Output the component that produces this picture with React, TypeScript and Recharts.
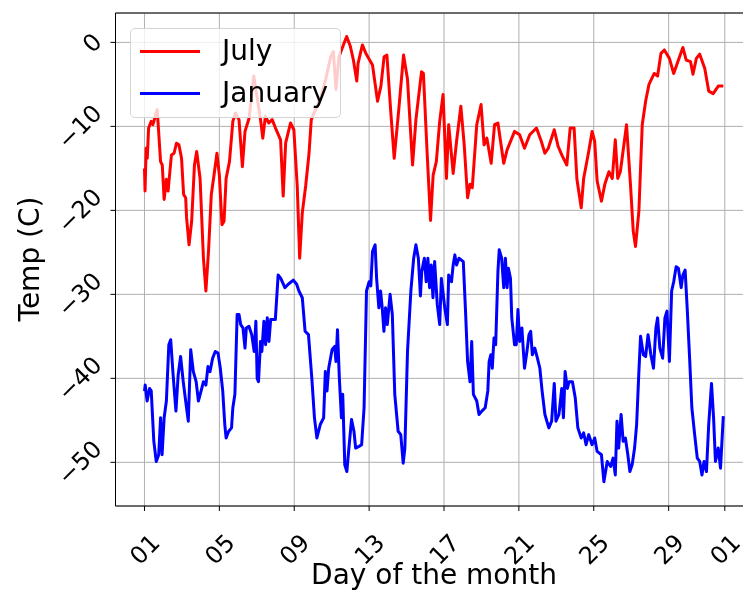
import React from 'react';
import { LineChart, Line, XAxis, YAxis, CartesianGrid, Legend, ReferenceLine, Label } from 'recharts';

// days since the 1st of the month, 00:00
const julyDay = [
  0.0, 0.03, 0.09, 0.15, 0.22, 0.36, 0.45, 0.68, 0.86, 0.95, 1.05, 1.17, 1.26, 1.44, 1.58, 1.71, 1.84, 1.98,
  2.09, 2.2, 2.25, 2.38, 2.52, 2.67, 2.79, 2.97, 3.15, 3.28, 3.42, 3.57, 3.69, 3.87, 4.0, 4.14, 4.25, 4.36,
  4.54, 4.72, 4.86, 5.05, 5.23, 5.37, 5.59, 5.84, 6.2, 6.32, 6.46, 6.64, 6.82, 7.0, 7.27, 7.41, 7.54, 7.8,
  7.98, 8.16, 8.29, 8.43, 8.61, 8.79, 8.91, 9.14, 9.41, 9.68, 9.95, 10.09, 10.23, 10.39, 10.66, 10.8, 11.0,
  11.16, 11.34, 11.41, 11.64, 11.82, 12.18, 12.45, 12.63, 12.8, 12.95, 13.16, 13.34, 13.6, 13.84, 14.05,
  14.32, 14.5, 14.8, 14.9, 15.1, 15.28, 15.42, 15.59, 15.77, 15.95, 16.13, 16.25, 16.49, 16.67, 16.9, 17.08,
  17.26, 17.39, 17.51, 17.75, 17.98, 18.14, 18.29, 18.52, 18.7, 18.88, 19.19, 19.37, 19.77, 20.04, 20.3,
  20.58, 20.94, 21.2, 21.39, 21.57, 21.89, 22.1, 22.29, 22.56, 22.74, 22.95, 23.1, 23.33, 23.46, 23.73,
  23.91, 24.05, 24.18, 24.41, 24.59, 24.81, 24.99, 25.15, 25.28, 25.42, 25.75, 25.96, 26.11, 26.23, 26.41,
  26.59, 26.77, 26.95, 27.23, 27.41, 27.59, 27.77, 28.04, 28.27, 28.49, 28.76, 28.94, 29.17, 29.3, 29.48,
  29.66, 29.93, 30.14, 30.38, 30.65, 30.92,
];
const julyTemp = [
  -15.0, -17.7, -12.6, -13.8, -10.2, -9.4, -9.8, -8.0, -14.2, -14.6, -18.7, -16.3, -17.7, -13.4, -13.2, -12.0, -12.2, -13.8,
  -18.1, -18.5, -20.9, -24.1, -21.3, -14.6, -13.0, -16.2, -25.7, -29.6, -24.9, -18.1, -16.2, -13.2, -15.8, -21.7, -21.3, -16.2,
  -14.2, -9.4, -8.4, -9.2, -14.8, -10.6, -9.0, -4.0, -9.2, -11.4, -8.8, -9.6, -9.2, -10.2, -11.6, -18.3, -12.0, -9.6,
  -10.4, -17.1, -25.7, -20.3, -17.1, -13.2, -9.2, -8.0, -6.6, -4.4, -1.7, -1.1, -5.6, -1.7, -0.1, 0.7, -0.5,
  -2.1, -4.6, -2.5, -0.3, -1.3, -2.7, -7.0, -5.2, -1.7, -1.5, -8.4, -13.8, -7.6, -1.5, -4.4,
  -14.6, -9.2, -3.5, -3.7, -13.2, -21.2, -15.8, -14.2, -9.4, -6.2, -16.2, -9.8, -15.6, -11.8, -7.6, -12.2,
  -18.5, -16.9, -17.3, -9.8, -7.4, -12.2, -11.4, -14.4, -9.8, -9.6, -14.4, -12.8, -10.6, -11.0, -12.6,
  -11.0, -10.2, -11.8, -13.2, -12.6, -10.4, -12.4, -13.4, -14.6, -10.2, -10.2, -16.3, -19.7, -16.2, -13.0,
  -10.6, -11.8, -16.5, -18.9, -16.9, -15.4, -16.2, -11.6, -16.2, -15.4, -9.8, -16.9, -22.5, -24.3, -20.1,
  -9.8, -7.0, -5.0, -3.7, -4.0, -1.3, -0.9, -1.9, -3.7, -2.3, -0.6, -2.1, -2.3, -3.8, -1.9,
  -1.4, -3.1, -5.8, -6.1, -5.2, -5.2,
];

const janDay = [
  0.0, 0.04, 0.14, 0.27, 0.36, 0.5, 0.63, 0.76, 0.86, 0.94, 1.05, 1.17, 1.3, 1.4, 1.53, 1.68, 1.8, 1.93, 2.07,
  2.2, 2.34, 2.47, 2.61, 2.76, 2.88, 3.06, 3.15, 3.28, 3.39, 3.5, 3.64, 3.78, 3.93, 4.05, 4.18, 4.29, 4.36,
  4.5, 4.65, 4.72, 4.83, 4.95, 5.05, 5.14, 5.26, 5.37, 5.44, 5.58, 5.73, 5.86, 5.95, 6.02, 6.09, 6.2, 6.27,
  6.38, 6.47, 6.56, 6.65, 6.74, 6.99, 7.14, 7.28, 7.5, 7.68, 7.95, 8.13, 8.25, 8.43, 8.58, 8.76, 8.94, 9.08,
  9.21, 9.39, 9.57, 9.66, 9.75, 9.84, 10.02, 10.16, 10.23, 10.31, 10.41, 10.52, 10.59, 10.7, 10.81, 10.92,
  11.06, 11.19, 11.28, 11.46, 11.6, 11.73, 11.86, 12.0, 12.09, 12.18, 12.32, 12.4, 12.52, 12.61, 12.7, 12.79,
  12.88, 12.97, 13.12, 13.24, 13.37, 13.55, 13.69, 13.82, 13.91, 14.05, 14.23, 14.38, 14.5, 14.63, 14.74,
  14.81, 14.95, 15.05, 15.14, 15.23, 15.32, 15.41, 15.5, 15.64, 15.77, 15.86, 16.04, 16.18, 16.25, 16.4,
  16.49, 16.58, 16.67, 16.8, 17.03, 17.15, 17.26, 17.39, 17.48, 17.57, 17.75, 17.87, 18.02, 18.2, 18.34,
  18.41, 18.5, 18.58, 18.67, 18.76, 18.88, 18.95, 19.08, 19.19, 19.28, 19.37, 19.44, 19.55, 19.62, 19.77,
  19.86, 19.95, 20.04, 20.16, 20.3, 20.43, 20.54, 20.63, 20.72, 20.85, 20.99, 21.12, 21.24, 21.39, 21.6,
  21.75, 21.89, 21.98, 22.14, 22.29, 22.38, 22.47, 22.59, 22.68, 22.86, 23.01, 23.15, 23.33, 23.46, 23.59,
  23.73, 23.91, 24.05, 24.18, 24.41, 24.54, 24.72, 24.9, 25.03, 25.15, 25.24, 25.33, 25.46, 25.57, 25.69,
  25.82, 25.93, 26.05, 26.18, 26.29, 26.41, 26.5, 26.65, 26.77, 26.9, 27.05, 27.19, 27.32, 27.41, 27.53,
  27.68, 27.8, 27.91, 28.04, 28.16, 28.27, 28.4, 28.52, 28.67, 28.76, 28.88, 28.99, 29.12, 29.24, 29.39,
  29.53, 29.66, 29.78, 29.89, 30.02, 30.14, 30.29, 30.4, 30.5, 30.65, 30.77, 30.92,
];
const janTemp = [
  -41.5, -40.8, -42.7, -41.2, -41.5, -47.5, -49.9, -49.1, -44.7, -49.1, -44.7, -42.7, -36.0, -35.4, -39.6, -43.9, -39.6, -37.4, -40.4,
  -42.7, -45.1, -36.6, -39.2, -40.4, -42.7, -41.2, -40.4, -40.8, -38.6, -39.2, -37.6, -36.8, -37.0, -38.8, -41.5, -45.5, -47.1,
  -46.3, -45.9, -43.5, -41.9, -32.4, -32.4, -33.6, -34.0, -36.4, -34.0, -33.8, -34.8, -36.8, -33.2, -40.0, -40.4, -35.6, -36.8,
  -33.2, -36.0, -32.8, -35.6, -33.0, -33.0, -27.7, -28.1, -29.2, -28.8, -28.3, -28.8, -29.6, -30.4, -34.4, -34.8, -40.0, -44.7,
  -47.1, -45.5, -44.7, -39.2, -41.5, -38.8, -36.6, -36.2, -38.0, -34.2, -40.0, -44.7, -41.9, -50.3, -51.1, -48.3,
  -44.9, -46.3, -48.3, -48.1, -47.9, -43.5, -29.6, -28.5, -29.0, -24.9, -24.1, -28.1, -31.6, -29.6, -31.6, -34.4,
  -31.6, -33.6, -30.0, -32.4, -41.9, -46.3, -46.7, -50.1, -48.3, -36.8, -29.6, -25.7, -24.1, -25.7, -30.2,
  -27.3, -25.7, -28.5, -25.7, -29.2, -26.5, -30.4, -26.1, -31.2, -33.6, -28.1, -31.6, -33.6, -27.7, -28.5,
  -26.5, -25.3, -26.5, -25.7, -26.1, -32.0, -38.0, -40.4, -35.6, -41.9, -42.7, -44.3, -43.9, -43.5, -41.5,
  -38.0, -37.2, -38.8, -35.2, -36.0, -27.3, -24.7, -25.7, -29.2, -25.7, -29.2, -26.9, -28.1, -32.8, -36.0,
  -36.0, -31.8, -35.6, -34.0, -38.8, -36.8, -34.8, -34.4, -37.2, -36.4, -37.6, -38.8, -41.5, -44.3, -45.9,
  -45.1, -40.6, -45.1, -44.3, -41.2, -44.7, -39.2, -41.2, -40.4, -40.4, -42.3, -45.9, -47.1, -46.5, -47.9,
  -46.7, -47.9, -47.1, -48.7, -49.1, -52.3, -49.9, -50.5, -49.5, -51.5, -45.1, -48.3, -44.3, -47.5, -47.1,
  -49.1, -51.1, -50.3, -48.3, -45.5, -39.2, -35.0, -37.2, -37.4, -34.8, -37.2, -38.8, -34.0, -32.8, -36.4,
  -37.6, -32.8, -32.0, -38.0, -29.6, -28.5, -26.7, -26.9, -29.2, -27.7, -27.1, -31.6, -37.6, -43.5, -46.7,
  -49.5, -49.9, -51.5, -49.9, -51.1, -45.5, -40.6, -44.7, -49.9, -48.3, -50.7, -44.5,
];

const dayTicks = [0, 4, 8, 12, 16, 20, 24, 28, 31];
const dayLabels = ['01', '05', '09', '13', '17', '21', '25', '29', '01'];
const tempTicks = [-50, -40, -30, -20, -10, 0];

const seriesNames = ['July', 'January'];
const seriesColors = ['#ff0000', '#0000ff'];

const julyData = julyDay.map((d, i) => ({ day: d, temp: julyTemp[i] }));
const janData = janDay.map((d, i) => ({ day: d, temp: janTemp[i] }));

const FONT = '"DejaVu Sans", sans-serif';
const TICK_FONT = 24;
const X_MIN = -1.548;
const X_MAX = 32.506;
const Y_MIN = -55.2;
const Y_MAX = 3.5;

const labelWidth = (s: string) =>
  [...s].reduce((sum, c) => sum + (c === '−' ? 0.838 : 0.636), 0) * TICK_FONT;

const XTick = (props: any) => {
  const { x, y, payload } = props;
  const label = dayLabels[dayTicks.indexOf(payload.value)] ?? '';
  const cy = y + 38;
  return (
    <text x={x} y={cy} dy="0.36em" textAnchor="middle" fontSize={TICK_FONT} fontFamily={FONT} fill="#000"
      transform={`rotate(-45, ${x}, ${cy})`}>
      {label}
    </text>
  );
};

const YTick = (props: any) => {
  const { x, y, payload } = props;
  const label = String(payload.value).replace('-', '−');
  const half = (labelWidth(label) / 2 + 0.582 * TICK_FONT) * 0.7071;
  const cx = x + 5 - 8.5 - half;
  return (
    <text x={cx} y={y} dy="0.36em" textAnchor="middle" fontSize={TICK_FONT} fontFamily={FONT} fill="#000"
      transform={`rotate(-45, ${cx}, ${y})`}>
      {label}
    </text>
  );
};

const renderLegend = () => (
  <div
    style={{
      width: 211,
      height: 90,
      boxSizing: 'border-box',
      border: '1px solid #d4d4d4',
      borderRadius: 5,
      background: 'rgba(255,255,255,0.8)',
      position: 'relative',
      fontFamily: FONT,
      fontSize: 28,
    }}
  >
    {seriesNames.map((name, i) => (
      <div key={name} style={{ position: 'absolute', left: 9, top: i === 0 ? 4 : 46, height: 36, display: 'flex', alignItems: 'center' }}>
        <span style={{ display: 'inline-block', width: 60, height: 3, background: seriesColors[i] }} />
        <span style={{ marginLeft: 22, color: '#000', lineHeight: '36px', whiteSpace: 'nowrap' }}>{name}</span>
      </div>
    ))}
  </div>
);

export default function App() {
  // fixed so the page never scrolls; the plot runs past the right edge like the original
  return (
    <div style={{ position: 'fixed', left: 8, top: 8, width: 735, height: 583, overflow: 'hidden' }}>
      <LineChart width={760} height={583} margin={{ top: 5, right: 15, bottom: 0, left: 0 }} style={{ fontFamily: FONT }}>
        <CartesianGrid stroke="#b0b0b0" strokeWidth={1} />
        <XAxis
          type="number"
          dataKey="day"
          domain={[X_MIN, X_MAX]}
          allowDataOverflow
          ticks={dayTicks}
          interval={0}
          height={85}
          tickSize={5}
          tickMargin={0}
          tick={<XTick />}
          axisLine={{ stroke: '#000', strokeWidth: 1 }}
          tickLine={{ stroke: '#000', strokeWidth: 1 }}
        >
          <Label
            content={() => (
              <text x={426} y={576} textAnchor="middle" fontSize={28} fontFamily={FONT} fill="#000">
                Day of the month
              </text>
            )}
          />
        </XAxis>
        <YAxis
          type="number"
          domain={[Y_MIN, Y_MAX]}
          allowDataOverflow
          ticks={tempTicks}
          interval={0}
          width={107.5}
          tickSize={5}
          tickMargin={0}
          tick={<YTick />}
          axisLine={{ stroke: '#000', strokeWidth: 1 }}
          tickLine={{ stroke: '#000', strokeWidth: 1 }}
        >
          <Label
            content={() => (
              <text x={21} y={251} dy="0.36em" textAnchor="middle" fontSize={28} fontFamily={FONT} fill="#000"
                transform="rotate(-90, 21, 251)">
                Temp (C)
              </text>
            )}
          />
        </YAxis>
        <ReferenceLine y={Y_MAX} stroke="#000" strokeWidth={1} />
        <Line
          data={julyData}
          dataKey="temp"
          name={seriesNames[0]}
          type="linear"
          stroke={seriesColors[0]}
          strokeWidth={3}
          strokeLinejoin="round"
          dot={false}
          isAnimationActive={false}
        />
        <Line
          data={janData}
          dataKey="temp"
          name={seriesNames[1]}
          type="linear"
          stroke={seriesColors[1]}
          strokeWidth={3}
          strokeLinejoin="round"
          dot={false}
          isAnimationActive={false}
        />
        <Legend
          layout="horizontal"
          verticalAlign="middle"
          align="center"
          content={renderLegend}
          wrapperStyle={{ position: 'absolute', left: 122, top: 20, width: 211, height: 90 }}
        />
      </LineChart>
    </div>
  );
}
